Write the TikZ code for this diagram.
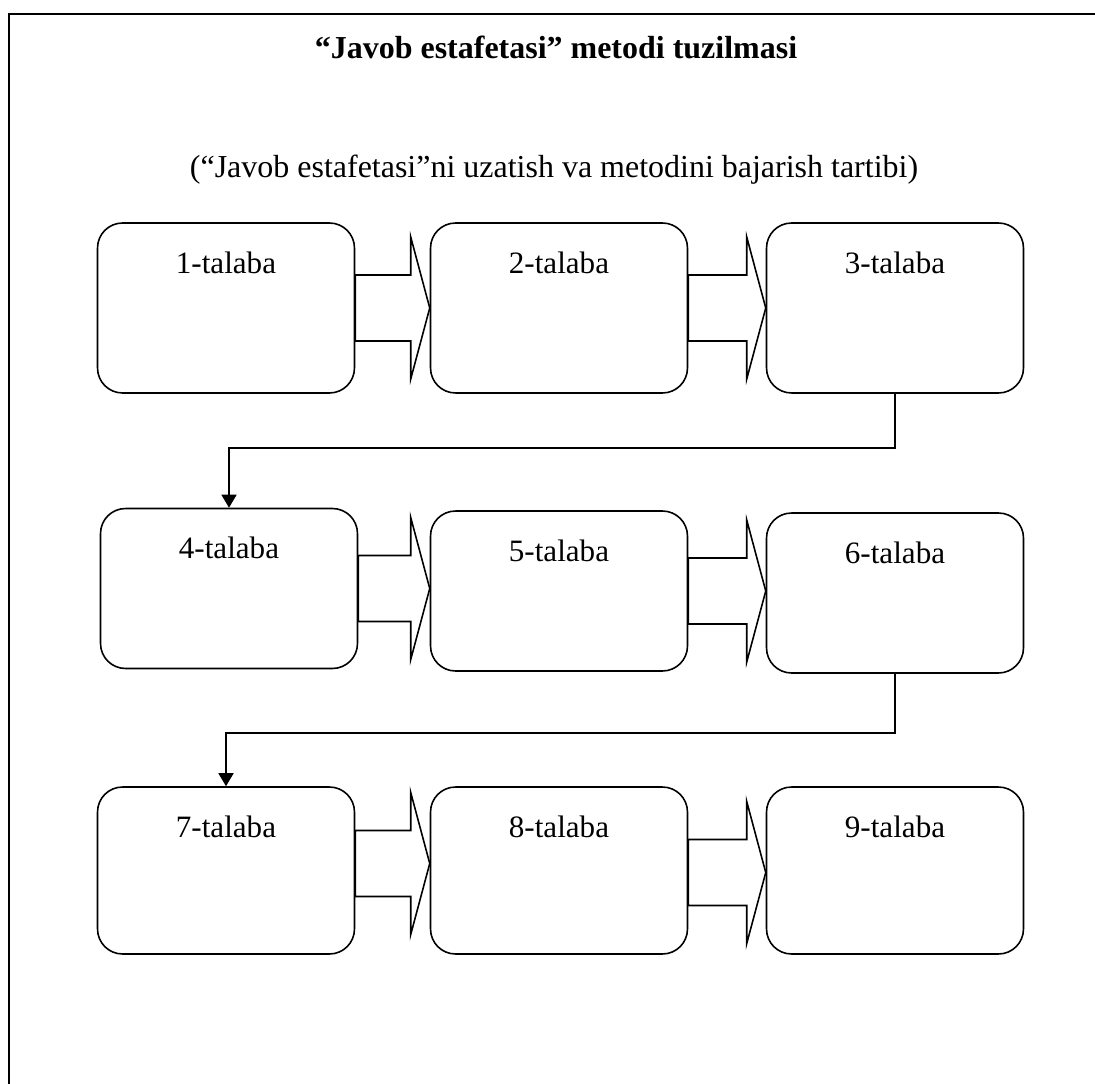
\documentclass[tikz,border=0pt]{standalone}
\usepackage{fontspec}
\setmainfont{Liberation Serif}
\usetikzlibrary{positioning}
\usetikzlibrary{calc}
\usetikzlibrary{arrows.meta}
\newcommand\blockarrow[3]{
  \draw[shaftline] ($(#1.east)+(0,#3-33)$) -| ($(#2.west |- #1.east)+(-19,#3-71)$) -- ($(#2.west |- #1.east)+(0,#3)$) -- ($(#2.west |- #1.east)+(-19,#3+71)$) |- ($(#1.east)+(0,#3+33)$) -- cycle;
}

\begin{document}
\begin{tikzpicture}[x=0.02cm, y=-0.02cm, line width=0.9pt,
    talaba/.style={draw, rounded corners=0.5cm, minimum width=5.14cm, inner xsep=0pt, inner ysep=0pt, text height=1cm, text depth=#1, font=\fontsize{17.7}{21}\selectfont},
    shaftline/.style={draw, line join=miter},
    passline/.style={-{Triangle[length=0.26cm,width=0.3cm]}, line join=miter}]
    \useasboundingbox (0,0) rectangle (1095,1084);
    \draw (9,1084) -- (9,14) -- (1095,14);
    \node[font=\bfseries\fontsize{18.2}{22}\selectfont] (title) at (556,47) {“Javob estafetasi” metodi tuzilmasi};
    \node[font=\fontsize{18.2}{22}\selectfont] (subtitle) at (554,170) {(“Javob estafetasi”ni uzatish va metodini bajarish tartibi)};
    % first row
    \node[talaba=2.4cm] (s1) at (226,308) {1-talaba};
    \node[talaba=2.4cm] (s2) at (559,308) {2-talaba};
    \node[talaba=2.4cm] (s3) at (895,308) {3-talaba};
    % second row
    \node[talaba=2.2cm] (s4) at (229,588.5) {4-talaba};
    \node[talaba=2.2cm] (s5) at (559,591) {5-talaba};
    \node[talaba=2.2cm] (s6) at (895,593) {6-talaba};
    % third row
    \node[talaba=2.34cm] (s7) at (226,870.5) {7-talaba};
    \node[talaba=2.34cm] (s8) at (559,870.5) {8-talaba};
    \node[talaba=2.34cm] (s9) at (895,870.5) {9-talaba};
    \blockarrow{s1}{s2}{0}
    \blockarrow{s2}{s3}{0}
    \blockarrow{s4}{s5}{0}
    \blockarrow{s5}{s6}{0}
    \blockarrow{s7}{s8}{-7}
    \blockarrow{s8}{s9}{2}
    \draw[passline] (s3.south) -- ++(0,54) -| (s4.north);
    \draw[passline] (s6.south) -- ++(0,59) -| (s7.north);
\end{tikzpicture}
\end{document}
